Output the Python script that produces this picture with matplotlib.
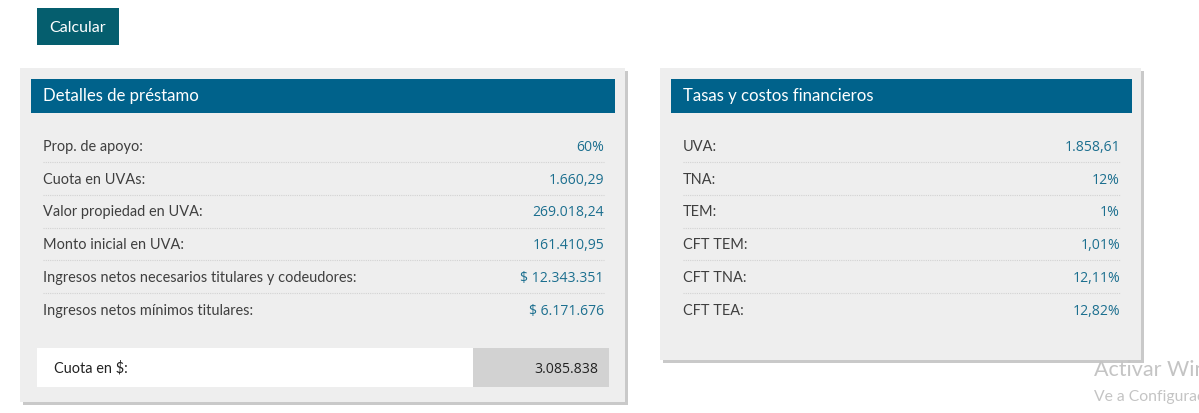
import matplotlib
matplotlib.use("Agg")
import matplotlib.pyplot as plt
from matplotlib.patches import Rectangle

plt.rcParams['font.family'] = ['Lato', 'DejaVu Sans']

button_label = "Calcular"
left_title = "Detalles de préstamo"
left_labels = ["Prop. de apoyo:", "Cuota en UVAs:", "Valor propiedad en UVA:", "Monto inicial en UVA:",
               "Ingresos netos necesarios titulares y codeudores:", "Ingresos netos mínimos titulares:"]
left_values = ["60%", "1.660,29", "269.018,24", "161.410,95", "$ 12.343.351", "$ 6.171.676"]
right_title = "Tasas y costos financieros"
right_labels = ["UVA:", "TNA:", "TEM:", "CFT TEM:", "CFT TNA:", "CFT TEA:"]
right_values = ["1.858,61", "12%", "1%", "1,01%", "12,11%", "12,82%"]
total_label = "Cuota en $:"
total_value = "3.085.838"
watermark = ["Activar Windows", "Ve a Configuración"]

W, H = 1199, 414
fig = plt.figure(figsize=(W / 100, H / 100), dpi=100)
ax = fig.add_axes([0, 0, 1, 1])
ax.set_xlim(0, W)
ax.set_ylim(H - 1, -1)
ax.axis("off")

PANEL = "#eeeeee"; SHADOW = "#c9c9c9"; HEAD = "#00628b"; BTN = "#055e6e"
TXT = "#3f3f3f"; VAL = "#1c6f8f"; FS = 10.45; FSV = 10.1
NUMFONT = ['Open Sans', 'DejaVu Sans']


def rect(x0, y0, x1, y1, c, z=1, **kw):
    ax.add_patch(Rectangle((x0, y0), x1 - x0, y1 - y0, fc=c, ec="none", zorder=z, **kw))


def panel(x0, y0, x1, y1, hx0, hx1, title, labels, values, lx, rx, sep0, sep1):
    rect(x0 + 3, y0 + 3, x1 + 3, y1 + 3, SHADOW, 1)
    rect(x0, y0, x1, y1, PANEL, 2)
    rect(hx0, 79, hx1, 113, HEAD, 3)
    ax.text(lx, 100.5, title, color="white", fontsize=12.1, va="baseline", ha="left", zorder=4)
    for i, (l, v) in enumerate(zip(labels, values)):
        y = 150 + i * 32.75
        ax.text(lx, y, l, color=TXT, fontsize=FS, va="baseline", ha="left", zorder=4)
        ax.text(rx, y, v, color=VAL, fontsize=FSV, va="baseline", ha="right", zorder=4, family=NUMFONT)
        if i < len(labels) - 1:
            ax.plot([sep0, sep1], [y + 12, y + 12], color="#d2d2d2", lw=0.8, ls=(0, (1, 1)), zorder=3)


rect(37, 8, 119, 45, BTN, 2)
ax.text(78, 31, button_label, color="white", fontsize=11.5, va="baseline", ha="center", zorder=3)

panel(20, 68, 625, 402, 31, 615, left_title, left_labels, left_values, 43, 604, 43, 604)
panel(660, 68, 1141, 360, 671, 1132, right_title, right_labels, right_values, 683, 1120, 683, 1120)

rect(37, 348, 473, 387, "white", 3)
rect(473, 348, 609, 387, "#d2d2d2", 3)
ax.text(54, 372, total_label, color="#222222", fontsize=FS, va="baseline", ha="left", zorder=4)
ax.text(598, 372, total_value, color="#222222", fontsize=FSV, va="baseline", ha="right", zorder=4, family=NUMFONT)

ax.text(1094, 375.5, watermark[0], color="#c4c4c4", fontsize=15.5, va="baseline", ha="left", zorder=5, clip_on=True)
ax.text(1094, 400, watermark[1], color="#c4c4c4", fontsize=11.3, va="baseline", ha="left", zorder=5, clip_on=True)

fig.savefig("out.png", dpi=100)
